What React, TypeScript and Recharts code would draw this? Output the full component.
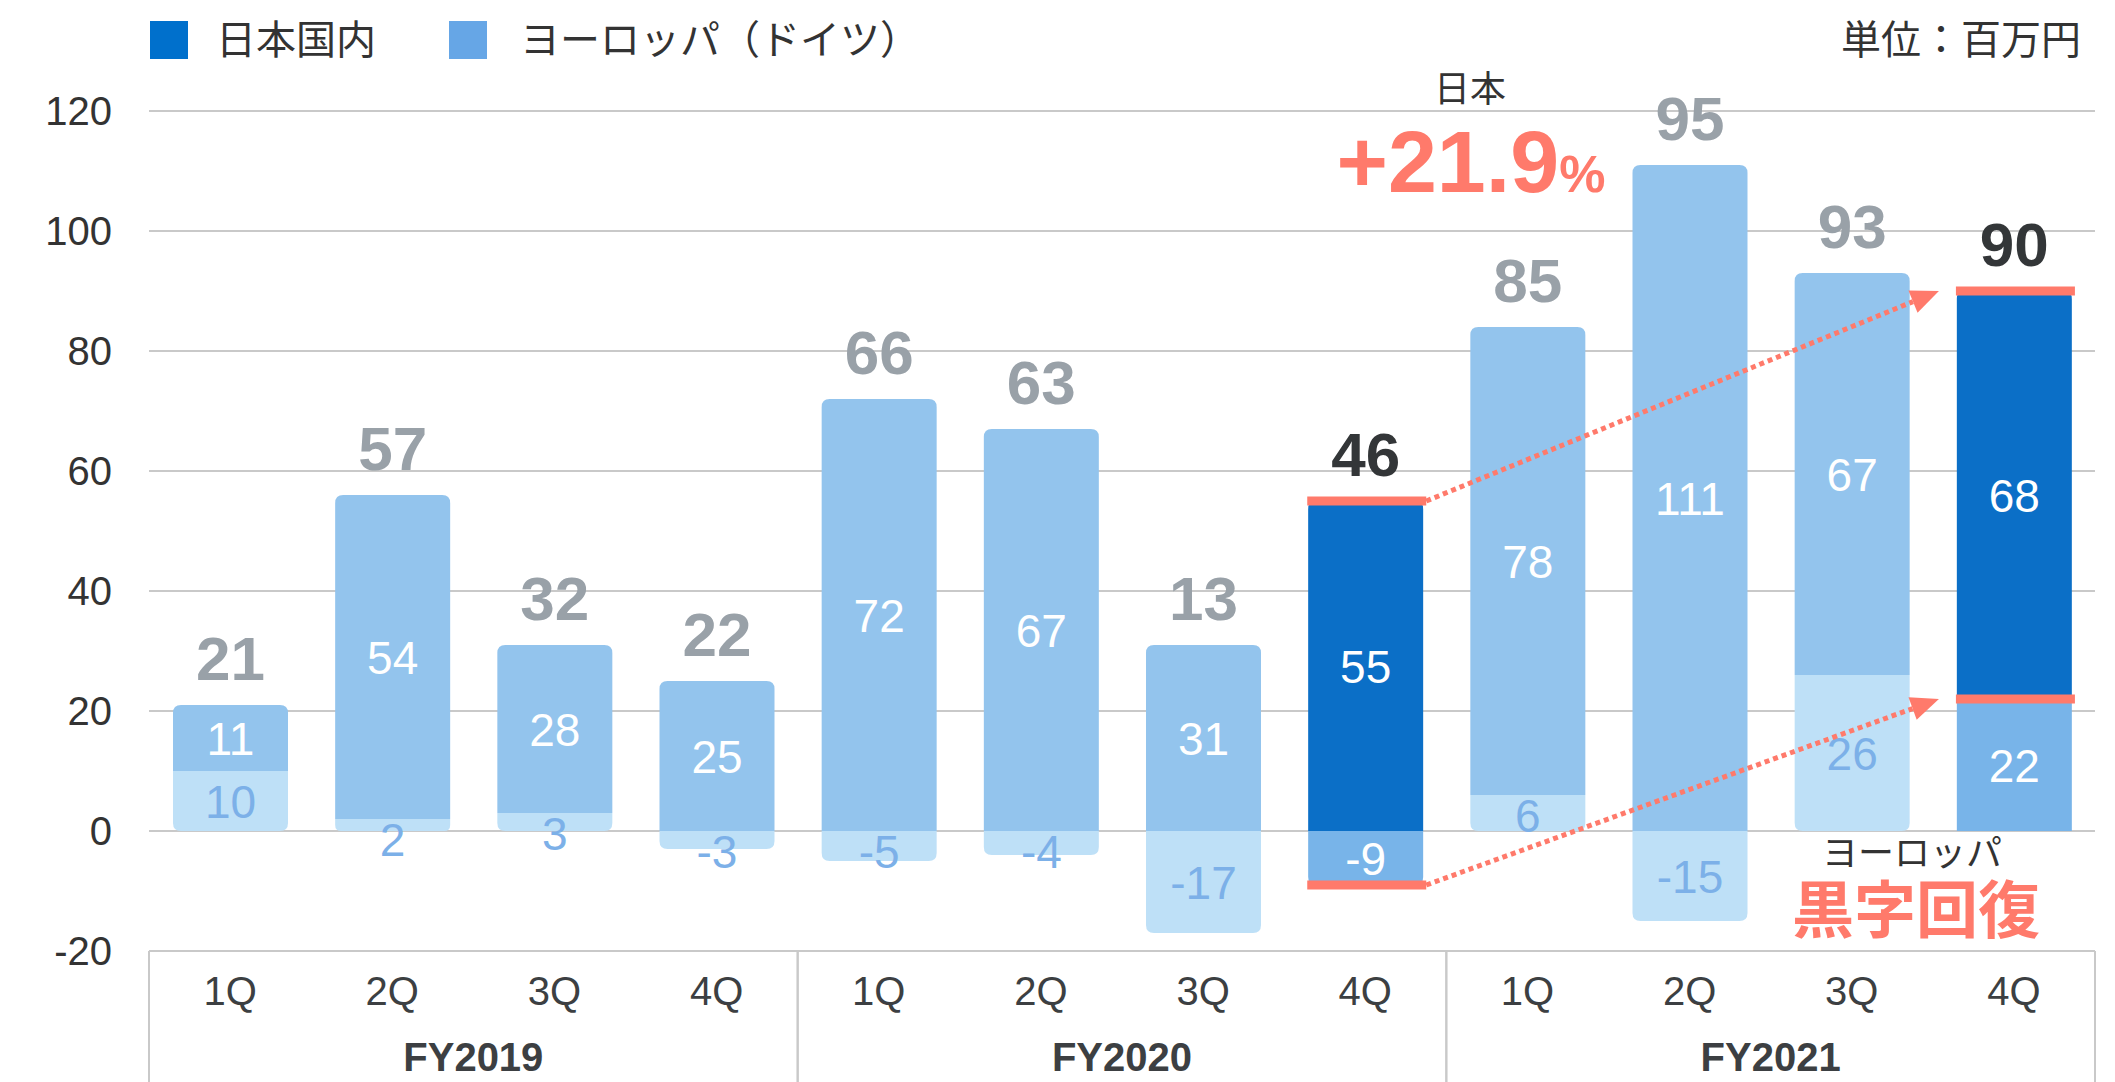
import { Bar, BarChart, CartesianGrid, ReferenceDot, ReferenceLine, XAxis, YAxis } from "recharts";

const fiscalYears = ["FY2019", "FY2020", "FY2021"];
const quarters = ["1Q", "2Q", "3Q", "4Q"];
const japanValues = [11, 54, 28, 25, 72, 67, 31, 55, 78, 111, 67, 68];
const europeValues = [10, 2, 3, -3, -5, -4, -17, -9, 6, -15, 26, 22];
const totalLabels = [21, 57, 32, 22, 66, 63, 13, 46, 85, 95, 93, 90];
const highlighted = ["FY2020 4Q", "FY2021 4Q"];
const yTicks = [-20, 0, 20, 40, 60, 80, 100, 120];

const markers = [
  { key: "FY2020 4Q", value: 55 },
  { key: "FY2020 4Q", value: -9 },
  { key: "FY2021 4Q", value: 90 },
  { key: "FY2021 4Q", value: 22 },
];
const arrows = [
  { from: { key: "FY2020 4Q", value: 55 }, to: { key: "FY2021 4Q", value: 90 } },
  { from: { key: "FY2020 4Q", value: -9 }, to: { key: "FY2021 4Q", value: 22 } },
];

const rows = fiscalYears.flatMap((fy, i) =>
  quarters.map((q, j) => {
    const n = i * 4 + j;
    return {
      key: `${fy} ${q}`,
      fy,
      quarter: q,
      japan: japanValues[n],
      europe: europeValues[n],
      total: totalLabels[n],
    };
  })
);

const FONT = '"Liberation Sans", "Noto Sans CJK JP", sans-serif';
const RED = "#FF7A6B";
const GRID = "#C9C9C9";

function segmentPath(x: number, top: number, w: number, h: number, r: number, roundTop: boolean) {
  if (r <= 0) return `M${x},${top} h${w} v${h} h${-w} Z`;
  if (roundTop) {
    return `M${x},${top + h} L${x},${top + r} Q${x},${top} ${x + r},${top} L${x + w - r},${top} Q${x + w},${top} ${x + w},${top + r} L${x + w},${top + h} Z`;
  }
  return `M${x},${top} L${x + w},${top} L${x + w},${top + h - r} Q${x + w},${top + h} ${x + w - r},${top + h} L${x + r},${top + h} Q${x},${top + h} ${x},${top + h - r} Z`;
}

function JapanBar(props: any) {
  const { x, y, width, height, payload } = props;
  const top = Math.min(y, y + height);
  const h = Math.abs(height);
  const hot = highlighted.includes(payload.key);
  return (
    <g>
      <path d={segmentPath(x, top, width, h, Math.min(8, h / 2), true)} fill={hot ? "#0B6FC7" : "#93C4ED"} />
      <text x={x + width / 2} y={top + h / 2} dy="0.36em" textAnchor="middle" fontSize={46} fill="#fff">
        {payload.japan}
      </text>
      <text
        x={x + width / 2}
        y={top - 47}
        dy="0.36em"
        textAnchor="middle"
        fontSize={62}
        fontWeight={700}
        fill={hot ? "#333638" : "#99A1A8"}
      >
        {payload.total}
      </text>
    </g>
  );
}

function EuropeBar(props: any) {
  const { x, y, width, height, payload } = props;
  const top = Math.min(y, y + height);
  const h = Math.abs(height);
  const hot = highlighted.includes(payload.key);
  const r = hot && payload.europe > 0 ? 0 : Math.min(8, h / 2);
  const shift = Math.max(0, (40 - h) / 2);
  return (
    <g>
      <path d={segmentPath(x, top, width, h, r, false)} fill={hot ? "#78B4E9" : "#BEE0F7"} />
      <text
        x={x + width / 2}
        y={top + h / 2 + shift}
        dy="0.36em"
        textAnchor="middle"
        fontSize={46}
        fill={hot ? "#fff" : "#7CB0E8"}
      >
        {payload.europe}
      </text>
    </g>
  );
}

function QuarterTick(props: any) {
  const { x, y, payload } = props;
  return (
    <text x={x} y={y + 54} textAnchor="middle" fontSize={40} fill="#3C3F42">
      {String(payload.value).split(" ")[1]}
    </text>
  );
}

function FiscalTick(props: any) {
  const { x, y, payload } = props;
  const half = payload?.offset ?? 324;
  return (
    <g>
      <line x1={x - half} x2={x - half} y1={y - 62} y2={y + 69} stroke={GRID} strokeWidth={2} />
      <line x1={x + half} x2={x + half} y1={y - 62} y2={y + 69} stroke={GRID} strokeWidth={2} />
      <text x={x} y={y + 58} textAnchor="middle" fontSize={40} fontWeight={700} fill="#3C3F42">
        {payload.value}
      </text>
    </g>
  );
}

function MarkerShape(props: any) {
  const { cx, cy } = props;
  return <rect x={cx - 58} y={cy - 4.5} width={119} height={9} fill={RED} />;
}

function DottedArrow(props: any) {
  const { x1, y1, x2, y2 } = props;
  const sx = x1 + 61;
  const ex = x2 - 75;
  const ang = Math.atan2(y2 - y1, ex - sx);
  const len = 28;
  const half = 12;
  const bx = ex - len * Math.cos(ang);
  const by = y2 - len * Math.sin(ang);
  const pts = [
    `${ex},${y2}`,
    `${bx - half * Math.sin(ang)},${by + half * Math.cos(ang)}`,
    `${bx + half * Math.sin(ang)},${by - half * Math.cos(ang)}`,
  ].join(" ");
  return (
    <g>
      <line x1={sx} y1={y1} x2={bx} y2={by} stroke={RED} strokeWidth={5} strokeDasharray="5 4" />
      <polygon points={pts} fill={RED} />
    </g>
  );
}

export default function App() {
  return (
    <div style={{ position: "absolute", left: 0, top: 0, width: 2115, height: 1082, fontFamily: FONT, background: "#fff" }}>
      <BarChart
        width={2115}
        height={1082}
        data={rows}
        stackOffset="sign"
        barSize={115}
        margin={{ top: 111, right: 20, bottom: 0, left: 0 }}
      >
        <CartesianGrid vertical={false} stroke={GRID} strokeWidth={2} />
        <XAxis
          dataKey="key"
          height={62}
          axisLine={false}
          tickLine={false}
          tickSize={0}
          tickMargin={0}
          interval={0}
          tick={<QuarterTick />}
        />
        <XAxis
          xAxisId="fy"
          dataKey="fy"
          allowDuplicatedCategory={false}
          height={69}
          axisLine={false}
          tickLine={false}
          tickSize={0}
          tickMargin={0}
          interval={0}
          tick={<FiscalTick />}
        />
        <YAxis
          domain={[-20, 120]}
          ticks={yTicks}
          interval={0}
          width={149}
          axisLine={false}
          tickLine={false}
          tickSize={0}
          tickMargin={37}
          tick={{ fontSize: 40, fill: "#333" }}
        />
        <Bar dataKey="europe" stackId="a" shape={<EuropeBar />} isAnimationActive={false} />
        <Bar dataKey="japan" stackId="a" shape={<JapanBar />} isAnimationActive={false} />
        {arrows.map((a, i) => (
          <ReferenceLine
            key={`arrow-${i}`}
            segment={[
              { x: a.from.key, y: a.from.value },
              { x: a.to.key, y: a.to.value },
            ]}
            ifOverflow="visible"
            shape={(p: any) => <DottedArrow {...p} />}
          />
        ))}
        {markers.map((m, i) => (
          <ReferenceDot
            key={`marker-${i}`}
            x={m.key}
            y={m.value}
            ifOverflow="visible"
            shape={(p: any) => <MarkerShape {...p} />}
          />
        ))}
      </BarChart>
      <svg
        width={2115}
        height={1082}
        style={{ position: "absolute", left: 0, top: 0, pointerEvents: "none" }}
      >
        <rect x={150} y={21} width={38} height={38} fill="#0070CC" />
        <text x={216} y={54} fontSize={40} fill="#333">日本国内</text>
        <rect x={449} y={21} width={38} height={38} fill="#66A6E6" />
        <text x={520} y={54} fontSize={40} fill="#333">ヨーロッパ（ドイツ）</text>
        <text x={2081} y={54} fontSize={40} fill="#333" textAnchor="end">単位：百万円</text>
        <text x={1470} y={102} fontSize={36} fill="#333" textAnchor="middle">日本</text>
        <text x={1471} y={192} textAnchor="middle" fill={RED} fontWeight={700}>
          <tspan fontSize={88}>+21.9</tspan>
          <tspan fontSize={52}>%</tspan>
        </text>
        <text x={1912} y={866} fontSize={36} fill="#333" textAnchor="middle">ヨーロッパ</text>
        <text x={1916} y={933} fontSize={62} fill={RED} fontWeight={700} textAnchor="middle">黒字回復</text>
      </svg>
    </div>
  );
}
